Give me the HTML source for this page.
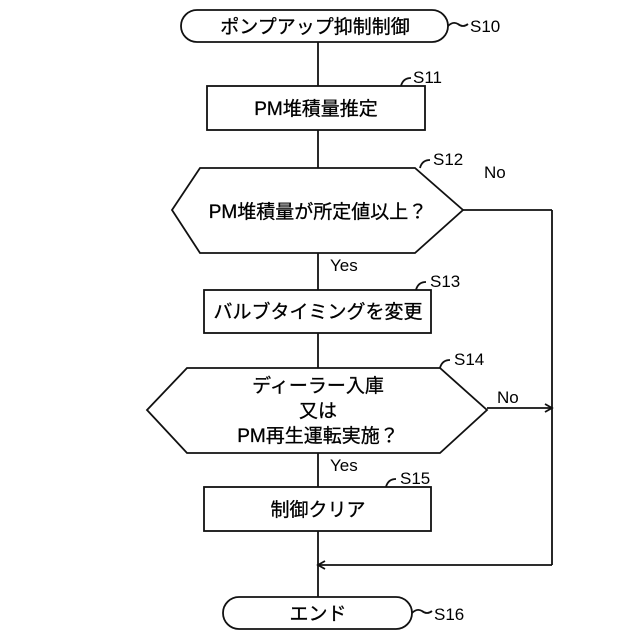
<!DOCTYPE html>
<html><head><meta charset="utf-8"><style>
html,body{margin:0;padding:0;background:#fff}
svg{display:block}
text{font-family:"Liberation Sans","Noto Sans CJK JP",sans-serif;fill:#000}
</style></head><body>
<svg width="640" height="640" viewBox="0 0 640 640" xmlns="http://www.w3.org/2000/svg">
<g stroke="#111" stroke-width="1.8" fill="none">
<rect x="181" y="10" width="267" height="32" rx="16"/>
<line x1="318" y1="42" x2="318" y2="86"/>
<rect x="207" y="86" width="218" height="44"/>
<line x1="318" y1="130" x2="318" y2="168"/>
<polygon points="200,168 415,168 463,210 415,253 200,253 172,210"/>
<line x1="318" y1="253" x2="318" y2="290"/>
<line x1="463" y1="210" x2="552" y2="210"/>
<line x1="552" y1="210" x2="552" y2="565"/>
<rect x="204" y="290" width="227" height="43"/>
<line x1="318" y1="333" x2="318" y2="368"/>
<polygon points="187,368 440,368 487,410 440,453 187,453 147,410"/>
<line x1="487" y1="408" x2="552" y2="408"/>
<polyline points="545,404 552,408 545,412"/>
<line x1="318" y1="453" x2="318" y2="487"/>
<rect x="204" y="487" width="227" height="44"/>
<line x1="318" y1="531" x2="318" y2="597"/>
<line x1="552" y1="565" x2="318" y2="565"/>
<polyline points="325,561 318,565 325,569"/>
<rect x="223" y="597" width="189" height="32" rx="16"/>
<path d="M448,26 q5,-5 10,-2 q5,4 10,0"/>
<path d="M412,613 q5,-5 10,-2 q5,4 10,0"/>
<path d="M401,86 q2,-8 10,-8"/>
<path d="M420,168 q2,-8 10,-8"/>
<path d="M416,290 q2,-8 10,-8"/>
<path d="M440,368 q2,-8 10,-8"/>
<path d="M386,487 q2,-8 10,-8"/>
</g>
<g font-size="19" text-anchor="middle" stroke="#000" stroke-width="0.3">
<text x="315" y="33">ポンプアップ抑制制御</text>
<text x="316" y="115">PM堆積量推定</text>
<text x="318" y="218">PM堆積量が所定値以上？</text>
<text x="318" y="318">バルブタイミングを変更</text>
<text x="318" y="392">ディーラー入庫</text>
<text x="318" y="417">又は</text>
<text x="318" y="442">PM再生運転実施？</text>
<text x="318" y="516">制御クリア</text>
<text x="318" y="620">エンド</text>
</g>
<g font-size="17">
<text x="470" y="32">S10</text>
<text x="413" y="83">S11</text>
<text x="433" y="165">S12</text>
<text x="484" y="178">No</text>
<text x="330" y="271">Yes</text>
<text x="430" y="287">S13</text>
<text x="454" y="365">S14</text>
<text x="497" y="403">No</text>
<text x="330" y="471">Yes</text>
<text x="400" y="484">S15</text>
<text x="434" y="620">S16</text>
</g>
</svg>
</body></html>
